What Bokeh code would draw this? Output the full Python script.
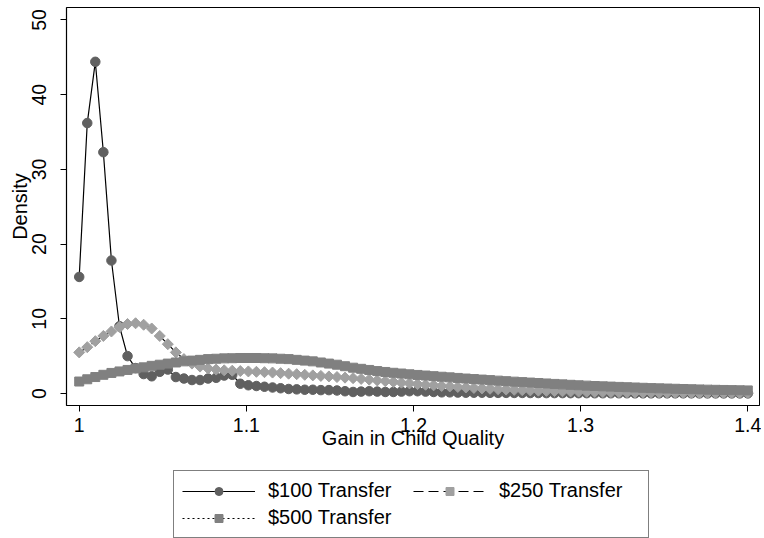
import numpy as np
from bokeh.plotting import figure
from bokeh.layouts import column
from bokeh.models import Range1d, FixedTicker, Legend, LegendItem
from bokeh.embed import file_html
from bokeh.resources import INLINE

# evaluation grid of the kernel density estimates
gain = np.linspace(1.0, 1.4, 84)

dens_100 = [15.6, 36.2, 44.4, 32.3, 17.8, 9.0, 5.0, 3.4, 2.6, 2.3,
            2.9, 3.2, 2.2, 2.0, 1.8, 1.8, 2.0, 2.1, 2.4, 2.5,
            1.3, 1.1, 1.0, 0.9, 0.8, 0.7, 0.6, 0.55, 0.5, 0.5,
            0.45, 0.45, 0.4, 0.3, 0.2, 0.25, 0.3, 0.25, 0.2, 0.2,
            0.25, 0.3, 0.3, 0.25, 0.2, 0.15, 0.15, 0.12, 0.1, 0.1,
            0.1, 0.09, 0.08, 0.08, 0.07, 0.07, 0.06, 0.06, 0.05, 0.05,
            0.05, 0.04, 0.04, 0.04, 0.03, 0.03, 0.03, 0.03, 0.03, 0.02,
            0.02, 0.02, 0.02, 0.02, 0.02, 0.02, 0.02, 0.01, 0.01, 0.01,
            0.01, 0.01, 0.01, 0.01]

dens_250 = [5.5, 6.2, 7.0, 7.7, 8.3, 8.9, 9.3, 9.4, 9.2, 8.7,
            7.7, 6.6, 5.5, 4.6, 4.0, 3.6, 3.35, 3.2, 3.1, 3.05,
            3.0, 2.95, 2.9, 2.85, 2.8, 2.72, 2.65, 2.58, 2.5, 2.42,
            2.35, 2.28, 2.2, 2.12, 2.05, 1.95, 1.85, 1.75, 1.65, 1.55,
            1.45, 1.35, 1.25, 1.17, 1.09, 1.01, 0.94, 0.87, 0.8, 0.74,
            0.68, 0.63, 0.58, 0.53, 0.49, 0.45, 0.41, 0.38, 0.35, 0.32,
            0.29, 0.27, 0.25, 0.23, 0.21, 0.19, 0.18, 0.16, 0.15, 0.14,
            0.13, 0.12, 0.11, 0.1, 0.09, 0.09, 0.08, 0.07, 0.07, 0.06,
            0.06, 0.05, 0.05, 0.05]

dens_500 = [1.6, 1.9, 2.2, 2.5, 2.75, 2.95, 3.15, 3.35, 3.5, 3.7,
            3.85, 4.0, 4.15, 4.3, 4.4, 4.5, 4.6, 4.65, 4.7, 4.72,
            4.75, 4.75, 4.75, 4.72, 4.7, 4.65, 4.6, 4.5, 4.4, 4.3,
            4.15, 4.0, 3.85, 3.65, 3.45, 3.3, 3.15, 3.0, 2.88, 2.77,
            2.67, 2.57, 2.48, 2.4, 2.32, 2.24, 2.16, 2.08, 2.0, 1.93,
            1.86, 1.79, 1.72, 1.65, 1.58, 1.52, 1.46, 1.4, 1.34, 1.28,
            1.22, 1.16, 1.1, 1.05, 1.0, 0.96, 0.92, 0.88, 0.84, 0.8,
            0.76, 0.72, 0.69, 0.66, 0.63, 0.6, 0.57, 0.54, 0.51, 0.49,
            0.47, 0.45, 0.43, 0.41]

x_ticks = [1.0, 1.1, 1.2, 1.3, 1.4]
x_tick_labels = ["1", "1.1", "1.2", "1.3", "1.4"]
y_ticks = [0, 10, 20, 30, 40, 50]
labels = ["$100 Transfer", "$250 Transfer", "$500 Transfer"]

FONT = "Liberation Sans"

STYLES = [
    dict(line=dict(line_color="black", line_width=1.2),
         mark=dict(marker="circle", size=9.5, fill_color="#606060", line_color="#606060")),
    dict(line=dict(line_color="black", line_width=1.2, line_dash="10 5"),
         mark=dict(marker="square", angle=np.pi / 4, size=7.8,
                   fill_color="#a0a0a0", line_color="#a0a0a0")),
    dict(line=dict(line_color="black", line_width=1.2, line_dash="2 3"),
         mark=dict(marker="square", size=9, fill_color="#808080", line_color="#808080")),
]

p = figure(frame_width=693, frame_height=398,
           x_range=Range1d(0.9924, 1.407), y_range=Range1d(-1.61, 51.67),
           output_backend="svg", toolbar_location=None,
           min_border_left=66, min_border_right=2, min_border_top=7,
           min_border_bottom=0)
p.background_fill_color = "white"
p.border_fill_color = "white"
p.outline_line_color = "black"
p.outline_line_width = 1
p.xgrid.visible = False
p.ygrid.visible = False

for ys, st in zip([dens_100, dens_250, dens_500], STYLES):
    p.line(gain, ys, **st["line"])
    p.scatter(gain, ys, **st["mark"])

# axes
p.xaxis.ticker = FixedTicker(ticks=x_ticks)
p.xaxis.major_label_overrides = {t: s for t, s in zip(x_ticks, x_tick_labels)}
p.yaxis.ticker = FixedTicker(ticks=y_ticks)
p.yaxis.major_label_orientation = "parallel"
for ax in (p.xaxis, p.yaxis):
    ax.axis_line_color = "black"
    ax.axis_line_width = 1.2
    ax.major_tick_line_color = "black"
    ax.major_tick_out = 6
    ax.major_tick_in = 0
    ax.minor_tick_out = 0
    ax.minor_tick_in = 0
    ax.major_label_text_font = FONT
    ax.major_label_text_font_size = "19.5px"
    ax.major_label_text_color = "black"
    ax.axis_label_text_font = FONT
    ax.axis_label_text_font_size = "20px"
    ax.axis_label_text_font_style = "normal"
    ax.axis_label_text_color = "black"
p.xaxis.axis_label = "Gain in Child Quality"
p.yaxis.axis_label = "Density"
p.xaxis.major_label_standoff = 6
p.xaxis.axis_label_standoff = -8
p.yaxis.major_label_standoff = 14
p.yaxis.axis_label_standoff = -1

# separate strip holding the legend (keys drawn from off-screen sample points)
q = figure(width=761, height=90, x_range=Range1d(0, 1), y_range=Range1d(0, 1),
           output_backend="svg", toolbar_location=None,
           min_border_left=66, min_border_right=2, min_border_top=0, min_border_bottom=0)
q.axis.visible = False
q.grid.visible = False
q.outline_line_color = None
items = []
for lab, st in zip(labels, STYLES):
    lr = q.line([-5, -4], [-5, -4], **st["line"])
    mr = q.scatter([-5], [-5], **st["mark"])
    items.append(LegendItem(label=lab, renderers=[lr, mr]))

legend = Legend(items=items, orientation="horizontal", ncols=2,
                location=(107, 3),
                label_text_font=FONT, label_text_font_size="20px",
                label_text_color="black",
                glyph_width=73, glyph_height=20, label_standoff=13,
                label_width=141, label_height=20,
                padding=8, spacing=4, margin=0,
                border_line_color="black", border_line_width=1,
                background_fill_alpha=1.0)
q.add_layout(legend, "center")

open("out.html", "w").write(file_html(column(p, q), INLINE))
